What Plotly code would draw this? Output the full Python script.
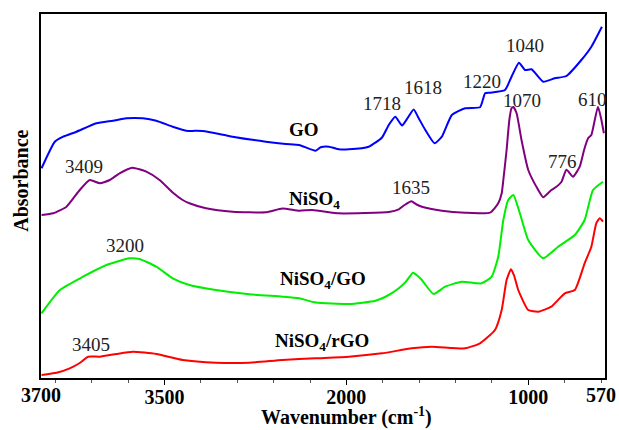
import plotly.graph_objects as go

# ---------------- data ----------------
go_wn = [3676, 3603, 3557, 3484, 3374, 3283, 3210, 3119, 3045, 2955, 2881, 2790, 2626, 2443, 2333,
         2260, 2169, 2141, 2096, 2041, 1986, 1877, 1804, 1767, 1731, 1694, 1663, 1630, 1603, 1566,
         1515, 1475, 1420, 1347, 1265, 1250, 1237, 1210, 1128, 1092, 1051, 1018, 982, 918, 854,
         790, 708, 653, 595]
go_abs = [2.097, 2.363, 2.413, 2.463, 2.547, 2.573, 2.597, 2.597, 2.573, 2.513, 2.473, 2.470, 2.413,
          2.363, 2.340, 2.330, 2.273, 2.307, 2.313, 2.287, 2.287, 2.313, 2.405, 2.530, 2.613, 2.525,
          2.600, 2.685, 2.600, 2.480, 2.347, 2.413, 2.630, 2.697, 2.707, 2.780, 2.847, 2.853, 2.880,
          3.013, 3.153, 3.080, 3.087, 2.963, 2.997, 3.020, 3.180, 3.313, 3.513]

ni_wn = [3676, 3612, 3539, 3466, 3411, 3356, 3301, 3247, 3177, 3100, 3027, 2955, 2900, 2863, 2772,
         2626, 2443, 2352, 2260, 2187, 2041, 1899, 1767, 1712, 1680, 1643, 1614, 1585, 1475, 1347,
         1210, 1165, 1146, 1137, 1119, 1104, 1092, 1082, 1064, 1037, 1000, 945, 918, 873, 847, 818,
         790, 754, 717, 693, 671, 653, 617, 600, 584]
ni_abs = [1.630, 1.647, 1.713, 1.880, 1.980, 1.947, 1.980, 2.047, 2.103, 2.063, 1.980, 1.855, 1.780,
          1.747, 1.697, 1.663, 1.657, 1.695, 1.673, 1.680, 1.647, 1.650, 1.660, 1.687, 1.730, 1.768,
          1.735, 1.713, 1.673, 1.653, 1.653, 1.747, 1.847, 1.980, 2.280, 2.580, 2.697, 2.710, 2.647,
          2.380, 2.080, 1.880, 1.807, 1.880, 1.910, 1.960, 2.083, 2.013, 2.113, 2.280, 2.397, 2.430,
          2.713, 2.600, 2.447]

nigo_wn = [3676, 3575, 3448, 3319, 3192, 3137, 3045, 2955, 2863, 2717, 2534, 2352, 2260, 2169, 1986,
           1840, 1767, 1712, 1674, 1634, 1614, 1585, 1521, 1457, 1366, 1256, 1201, 1165, 1137, 1110,
           1082, 1046, 1000, 918, 836, 744, 690, 644, 589]
nigo_abs = [0.647, 0.880, 1.013, 1.130, 1.197, 1.190, 1.113, 0.997, 0.930, 0.880, 0.837, 0.813, 0.797,
            0.755, 0.740, 0.773, 0.830, 0.897, 0.960, 1.053, 1.030, 0.980, 0.840, 0.913, 0.963, 0.947,
            1.013, 1.213, 1.580, 1.780, 1.830, 1.647, 1.380, 1.197, 1.313, 1.430, 1.580, 1.880, 1.963]

nirgo_wn = [3676, 3593, 3521, 3466, 3420, 3356, 3265, 3174, 3045, 2900, 2717, 2534, 2352, 2169, 1986,
            1804, 1640, 1530, 1347, 1265, 1183, 1146, 1119, 1095, 1077, 1055, 1000, 945, 873, 799,
            744, 690, 653, 626, 607, 589]
nirgo_abs = [0.030, 0.053, 0.097, 0.150, 0.213, 0.213, 0.240, 0.263, 0.240, 0.180, 0.153, 0.153, 0.180,
             0.197, 0.213, 0.247, 0.297, 0.313, 0.297, 0.347, 0.480, 0.680, 0.980, 1.087, 1.020, 0.880,
             0.680, 0.663, 0.713, 0.847, 0.880, 1.147, 1.313, 1.547, 1.597, 1.563]

series_names = ["GO", "NiSO<sub>4</sub>", "NiSO<sub>4</sub>/GO", "NiSO<sub>4</sub>/rGO"]
series_colors = ["#0000FF", "#800080", "#00EE00", "#FF0000"]

# peak labels: (text, wavenumber, absorbance position)
peak_text = ["1718", "1618", "1220", "1040", "1070", "610", "776", "1635", "3409", "3200", "3405"]
peak_wn = [1804, 1579, 1256, 1018, 1033, 648, 812, 1647, 3444, 3218, 3405]
peak_y = [2.75, 2.907, 2.963, 3.323, 2.78, 2.79, 2.163, 1.905, 2.113, 1.323, 0.34]

# series name labels
name_wn = [2235, 2178, 2129, 2134]
name_y = [2.487, 1.78, 0.98, 0.363]

# axis ticks
major_tickvals = [3000, 2000, 1000]
major_ticktext = ["3500", "2000", "1000"]
end_tick_wn = [3679, 600]
end_tick_text = ["3700", "570"]

# ---------------- figure ----------------
FONT = "Liberation Serif"
fig = go.Figure()
for wn, ab, name, col in zip([go_wn, ni_wn, nigo_wn, nirgo_wn],
                             [go_abs, ni_abs, nigo_abs, nirgo_abs],
                             series_names, series_colors):
    fig.add_trace(go.Scatter(x=wn, y=ab, mode="lines", name=name,
                             line=dict(color=col, width=2, shape="spline", smoothing=0.5)))

annotations = []
for t, x, y in zip(peak_text, peak_wn, peak_y):
    annotations.append(dict(x=x, y=y, xref="x", yref="y", text=t, showarrow=False,
                            font=dict(family=FONT, size=19, color="#222")))
for t, x, y in zip(series_names, name_wn, name_y):
    annotations.append(dict(x=x, y=y, xref="x", yref="y", text="<b>" + t + "</b>",
                            showarrow=False, font=dict(family=FONT, size=19, color="black")))
for t, x in zip(end_tick_text, end_tick_wn):
    annotations.append(dict(x=x, y=0, xref="x", yref="paper", text="<b>" + t + "</b>",
                            showarrow=False, yanchor="top", yshift=-4,
                            font=dict(family=FONT, size=20, color="black")))
annotations.append(dict(x=0.542, y=-0.106, xref="paper", yref="paper",
                        text="<b>Wavenumber (cm<sup>-1</sup>)</b>", showarrow=False,
                        yanchor="middle", font=dict(family=FONT, size=20, color="black")))
annotations.append(dict(x=-0.036, y=0.541, xref="paper", yref="paper", text="<b>Absorbance</b>",
                        showarrow=False, textangle=-90, xanchor="center", yanchor="middle",
                        font=dict(family=FONT, size=20, color="black")))

fig.update_layout(
    width=619, height=430,
    margin=dict(l=41, r=12, t=14, b=52),
    paper_bgcolor="white", plot_bgcolor="white",
    showlegend=False,
    annotations=annotations,
    xaxis=dict(range=[3679, 578], showgrid=False, zeroline=False,
               showline=True, linecolor="black", linewidth=2, mirror=True,
               ticks="outside", ticklen=5, tickwidth=1, tickcolor="black",
               ticklabelstandoff=-5,
               tickvals=major_tickvals, ticktext=["<b>" + t + "</b>" for t in major_ticktext],
               tickfont=dict(family=FONT, size=20, color="black"),
               minor=dict(tick0=0, dtick=200, ticks="outside", ticklen=3,
                          tickcolor="#555", tickwidth=1, showgrid=False)),
    yaxis=dict(range=[0, 3.64], showgrid=False, zeroline=False, showticklabels=False,
               ticks="", showline=True, linecolor="black", linewidth=2, mirror=True),
)

fig.write_html("out.html", config={"displayModeBar": False},
               post_script="document.body.style.margin='0';document.body.style.overflow='hidden';")
